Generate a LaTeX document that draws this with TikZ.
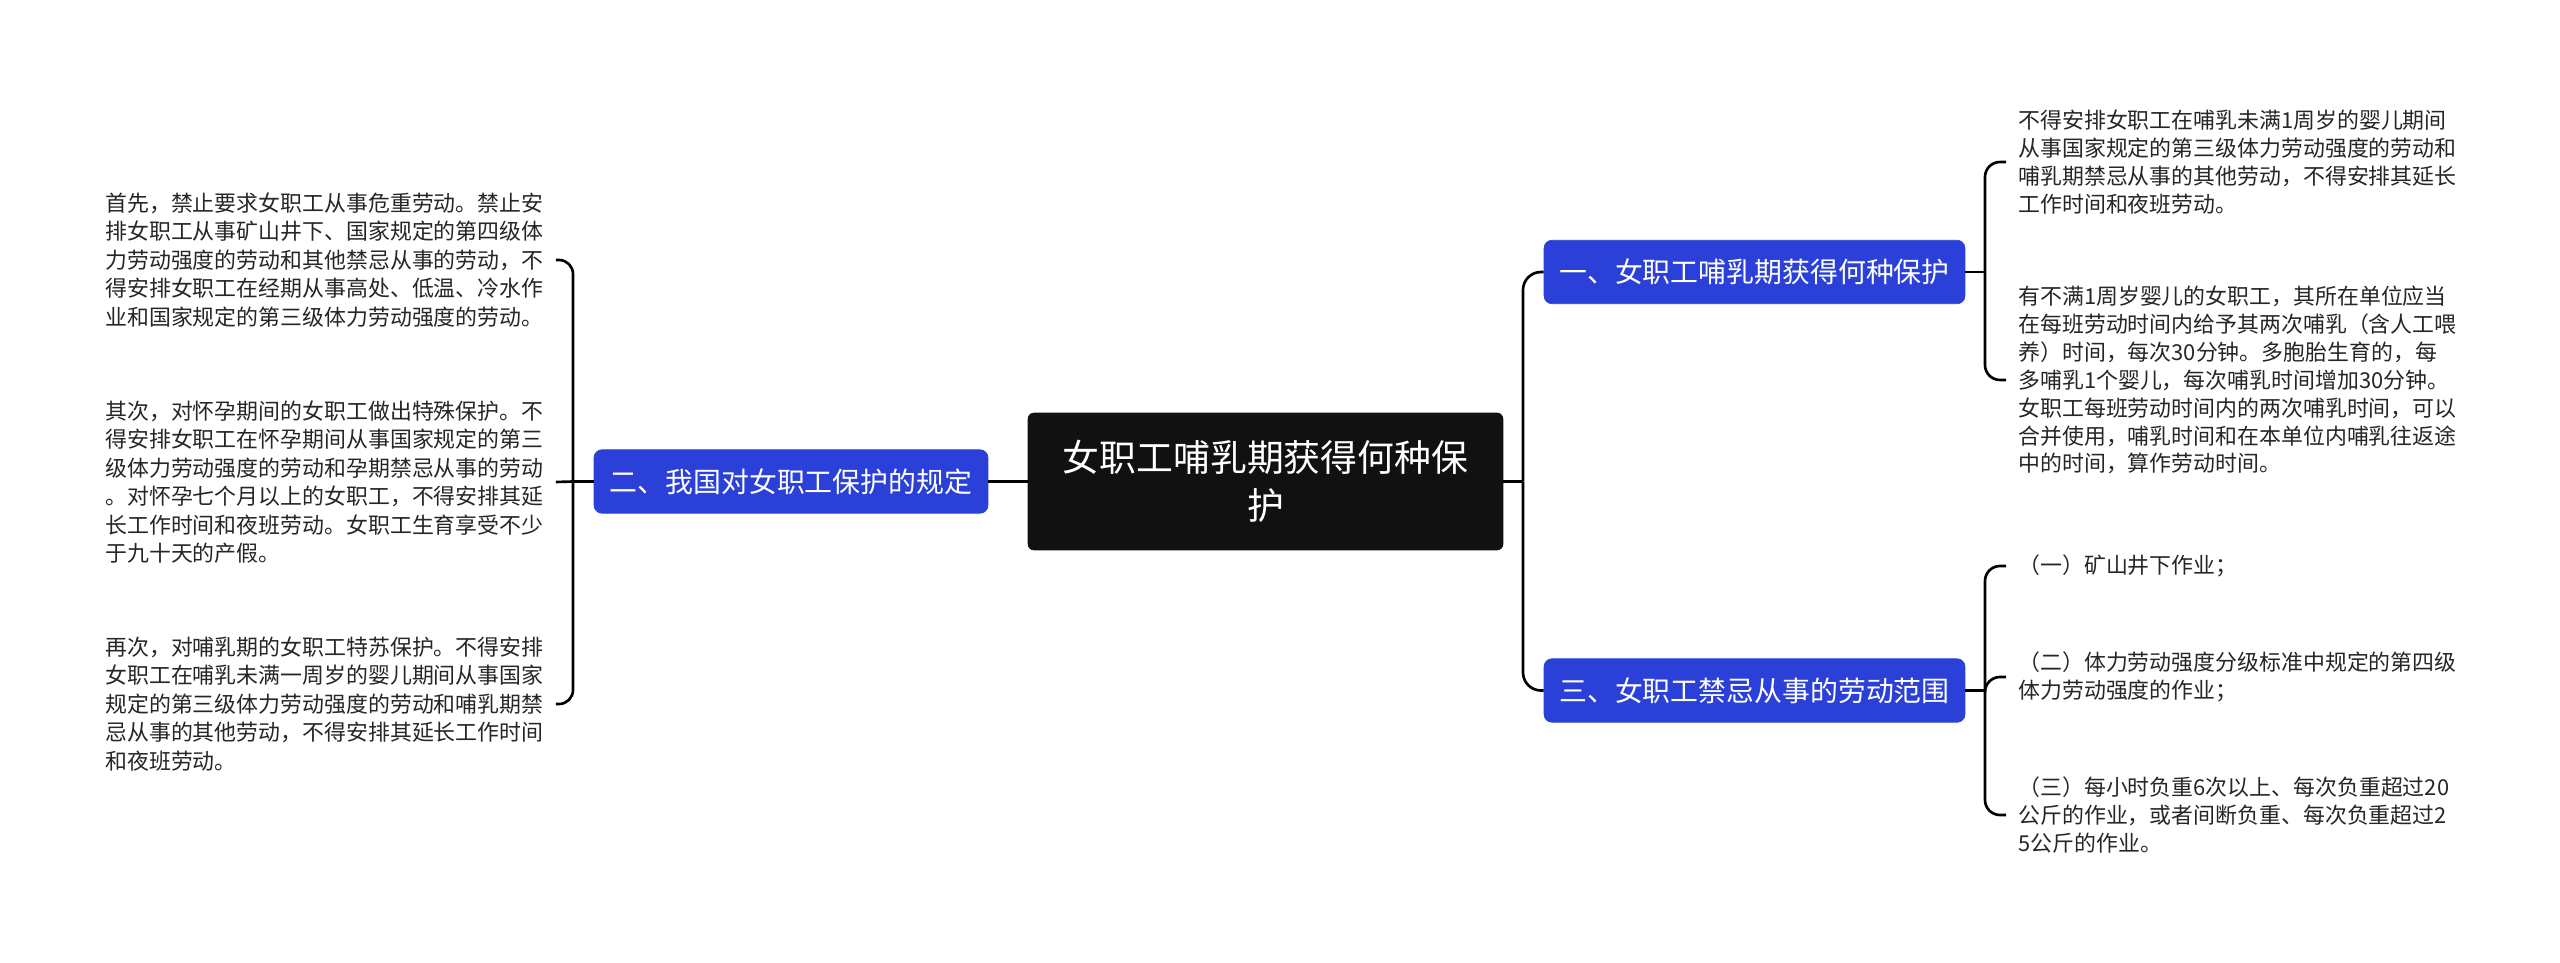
\documentclass[tikz,border=0pt]{standalone}
\usepackage{fontspec}
\setmainfont{Noto Sans CJK SC}
\definecolor{nodeblue}{HTML}{2A40D8}
\definecolor{rootblack}{HTML}{111111}
\tikzset{
  conn/.style={line width=1.5pt, draw=black},
  rootnode/.style={fill=rootblack, draw=rootblack, rounded corners=0.12cm, text=white,
    minimum width=9.5cm, minimum height=2.74cm, align=center, inner sep=0pt,
    font={\fontsize{20.98}{27.2}\selectfont}},
  topic/.style={fill=nodeblue, draw=nodeblue, rounded corners=0.16cm, text=white,
    minimum height=1.27cm, inner sep=0pt, font={\fontsize{15.87}{19}\selectfont}},
  leaf/.style={align=left, inner xsep=0.24cm, inner ysep=0.06cm,
    font={\fontsize{12.47}{15.9}\selectfont}, text=black!85},
  leafL/.style={leaf, font={\fontsize{12.47}{16.2}\selectfont}},
}
\begin{document}
\begin{tikzpicture}[x=0.02cm, y=-0.02cm]
\useasboundingbox[fill=white] (0,0) rectangle (2560,963);

\node[rootnode] (root) at (1265.5,481.5) {女职工哺乳期获得何种保\\护};

\node[topic, minimum width=8.42cm] (n1) at (1754.5,272) {一、女职工哺乳期获得何种保护};
\node[topic, minimum width=8.42cm] (n3) at (1754.5,690.5) {三、女职工禁忌从事的劳动范围};
\node[topic, minimum width=7.88cm] (n2) at (791,481.5) {二、我国对女职工保护的规定};

% left leaves
\node[leafL, anchor=west] (l1) at (93,260) {首先，禁止要求女职工从事危重劳动。禁止安\\排女职工从事矿山井下、国家规定的第四级体\\力劳动强度的劳动和其他禁忌从事的劳动，不\\得安排女职工在经期从事高处、低温、冷水作\\业和国家规定的第三级体力劳动强度的劳动。};
\node[leafL, anchor=west] (l2) at (93,482) {其次，对怀孕期间的女职工做出特殊保护。不\\得安排女职工在怀孕期间从事国家规定的第三\\级体力劳动强度的劳动和孕期禁忌从事的劳动\\。对怀孕七个月以上的女职工，不得安排其延\\长工作时间和夜班劳动。女职工生育享受不少\\于九十天的产假。};
\node[leafL, anchor=west] (l3) at (93,704) {再次，对哺乳期的女职工特苏保护。不得安排\\女职工在哺乳未满一周岁的婴儿期间从事国家\\规定的第三级体力劳动强度的劳动和哺乳期禁\\忌从事的其他劳动，不得安排其延长工作时间\\和夜班劳动。};

% right leaves
\node[leaf, anchor=west] (r1) at (2006,162) {不得安排女职工在哺乳未满1周岁的婴儿期间\\从事国家规定的第三级体力劳动强度的劳动和\\哺乳期禁忌从事的其他劳动，不得安排其延长\\工作时间和夜班劳动。};
\node[leaf, anchor=west] (r2) at (2006,380) {有不满1周岁婴儿的女职工，其所在单位应当\\在每班劳动时间内给予其两次哺乳（含人工喂\\养）时间，每次30分钟。多胞胎生育的，每\\多哺乳1个婴儿，每次哺乳时间增加30分钟。\\女职工每班劳动时间内的两次哺乳时间，可以\\合并使用，哺乳时间和在本单位内哺乳往返途\\中的时间，算作劳动时间。};
\node[leaf, anchor=west] (r3) at (2006,566) {（一）矿山井下作业；};
\node[leaf, anchor=west] (r4) at (2006,677) {（二）体力劳动强度分级标准中规定的第四级\\体力劳动强度的作业；};
\node[leaf, anchor=west] (r5) at (2006,815) {（三）每小时负重6次以上、每次负重超过20\\公斤的作业，或者间断负重、每次负重超过2\\5公斤的作业。};

% trunk coordinates
\coordinate (tR) at (1523,481.5);
\coordinate (tL) at (573,481.5);
\coordinate (t1) at (1985,272);
\coordinate (t3) at (1985,690.5);

% root to right topics
\draw[conn] (root.east) -- (tR);
\draw[conn, rounded corners=0.36cm] (tR) |- (n1.west);
\draw[conn, rounded corners=0.36cm] (tR) |- (n3.west);

% root to left topic
\draw[conn] (root.west) -- (n2.east);
\draw[conn] (n2.west) -- (tL);
\draw[conn, rounded corners=0.28cm] (tL) |- (l1.east);
\draw[conn] (tL) -- (l2.east);
\draw[conn, rounded corners=0.28cm] (tL) |- (l3.east);

% topic 1 leaves
\draw[conn] (n1.east) -- (t1);
\draw[conn, rounded corners=0.3cm] (t1) |- (r1.west);
\draw[conn, rounded corners=0.3cm] (t1) |- (r2.west);

% topic 3 leaves
\draw[conn] (n3.east) -- (t3);
\draw[conn, rounded corners=0.3cm] (t3) |- (r3.west);
\draw[conn, rounded corners=0.3cm] (t3) |- (r4.west);
\draw[conn, rounded corners=0.3cm] (t3) |- (r5.west);
\end{tikzpicture}
\end{document}
